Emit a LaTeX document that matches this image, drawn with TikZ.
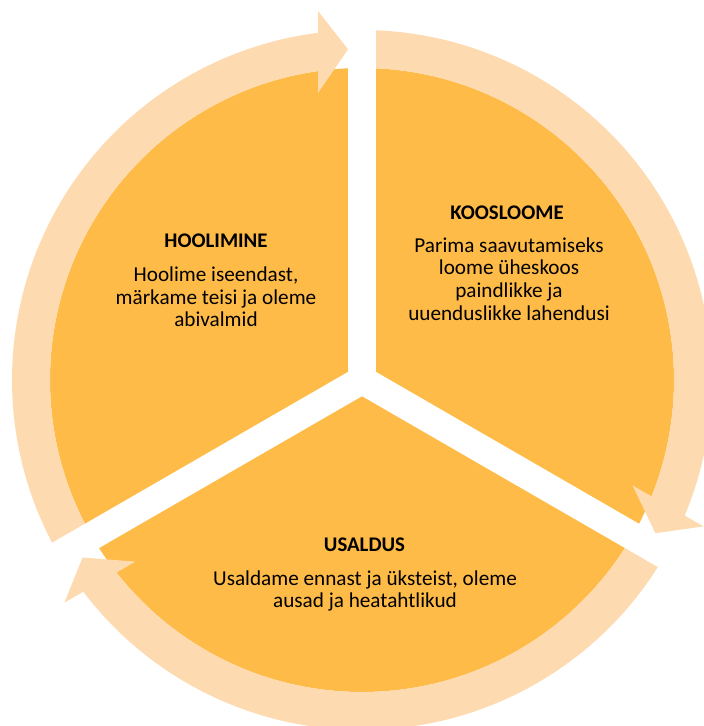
\documentclass[tikz,border=0pt]{standalone}
\usepackage{fontspec}
\setmainfont{Carlito}
\usetikzlibrary{calc}
\definecolor{pieor}{HTML}{FFBB47}
\definecolor{ringor}{HTML}{FEDAB0}
\begin{document}
\begin{tikzpicture}[x=1pt,y=1pt,
  headtxt/.style={inner sep=0pt, font=\fontsize{20.8}{22.7}\selectfont\bfseries},
  bodytxt/.style={inner sep=0pt, align=center, font=\fontsize{21.2}{22.7}\selectfont},
  gapline/.style={white, line width=28pt}]
\useasboundingbox (0,0) rectangle (704,-726);
\coordinate (C) at (362,-380);
\fill[pieor] (C) circle[radius=312];
\foreach \a in {90,210,330} {
  \pgfmathsetmacro\b{\a+120}
  \pgfmathsetmacro\e{\a+6.5}
  \fill[ringor] ($(C)+(\b:350)$) arc[start angle=\b, end angle=\e, radius=350]
     -- ($(C)+(\e:312)$) arc[start angle=\e, end angle=\b, radius=312] -- cycle;
  \begin{scope}[shift={(C)}, rotate=\a-90]
    \fill[ringor] (-44,369) -- (-14,330.7) -- (-44,287) -- cycle;
  \end{scope}
}
\foreach \a in {90,210,330} \draw[gapline] (C) -- ($(C)+(\a:420)$);
\node[headtxt] (h1) at (216,-241) {HOOLIMINE};
\node[bodytxt] (b1) at (216,-297) {Hoolime iseendast,\\märkame teisi ja oleme\\abivalmid};
\node[headtxt] (h2) at (507,-213) {KOOSLOOME};
\node[bodytxt] (b2) at (509,-279) {Parima saavutamiseks\\loome üheskoos\\paindlikke ja\\uuenduslikke lahendusi};
\node[headtxt] (h3) at (364.5,-545) {USALDUS};
\node[bodytxt] (b3) at (365,-591) {Usaldame ennast ja üksteist, oleme\\ausad ja heatahtlikud};
\end{tikzpicture}
\end{document}
